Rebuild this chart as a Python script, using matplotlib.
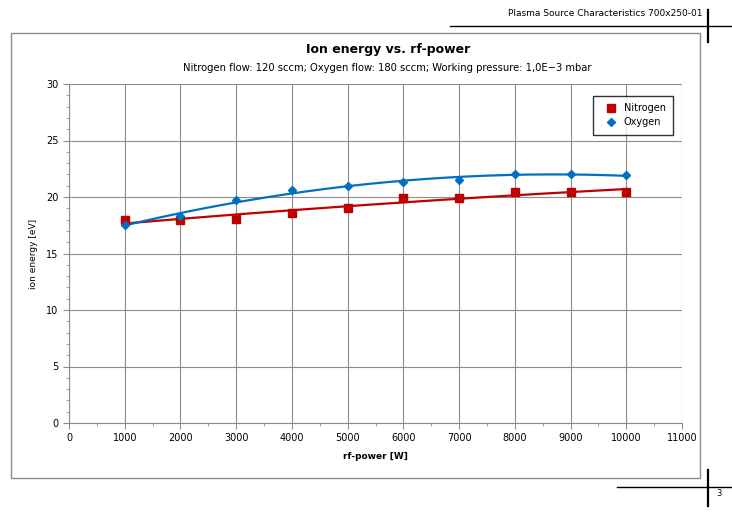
import matplotlib
matplotlib.use("Agg")
import matplotlib.pyplot as plt
import numpy as np
from matplotlib.patches import Rectangle
from matplotlib.lines import Line2D
from matplotlib.ticker import MultipleLocator

# rf-power [W] and ion energy [eV]
potencia = [1000, 2000, 3000, 4000, 5000, 6000, 7000, 8000, 9000, 10000]
nitrogeno = [18.0, 18.0, 18.05, 18.6, 19.0, 19.95, 19.95, 20.4, 20.45, 20.45]
oxigeno = [17.5, 18.3, 19.7, 20.6, 21.0, 21.35, 21.5, 22.0, 22.0, 21.95]

ROJO = "#C00000"
AZUL = "#0070C0"
GRIS = "#8c8c8c"

plt.rcParams["font.family"] = ["DejaVu Sans"]

fig = plt.figure(figsize=(7.32, 5.12), dpi=100)
W, H = 732, 512


def fx(px):
    return px / W


def fy(py):
    return 1 - py / H


# marco del gráfico
fig.patches.append(Rectangle((fx(11), fy(478)), fx(700) - fx(11), fy(33) - fy(478),
                             transform=fig.transFigure, fill=False,
                             edgecolor=GRIS, lw=1.0))

# cabecera y pie de página
fig.add_artist(Line2D([fx(450), fx(732)], [fy(26), fy(26)], color="black", lw=1.0))
fig.add_artist(Line2D([fx(708), fx(708)], [fy(10), fy(42)], color="black", lw=1.6))
fig.text(fx(703), fy(14), "Plasma Source Characteristics 700x250-01",
         ha="right", va="center", fontsize=6.5)
fig.add_artist(Line2D([fx(617), fx(732)], [fy(487), fy(487)], color="black", lw=1.0))
fig.add_artist(Line2D([fx(708), fx(708)], [fy(470), fy(506)], color="black", lw=1.6))
fig.text(fx(716), fy(493), "3", ha="left", va="center", fontsize=6)

fig.text(fx(388), fy(50), "Ion energy vs. rf-power", ha="center", va="center",
         fontsize=9, fontweight="bold")
fig.text(fx(387), fy(68),
         "Nitrogen flow: 120 sccm; Oxygen flow: 180 sccm; Working pressure: 1,0E\u22123 mbar",
         ha="center", va="center", fontsize=7.2)

ax = fig.add_axes([fx(69), fy(423), fx(682) - fx(69), fy(84) - fy(423)])

x = np.array(potencia)
xs = np.linspace(1000, 10000, 200)
for datos, color in [(nitrogeno, ROJO), (oxigeno, AZUL)]:
    coef = np.polyfit(x, datos, 2)
    ax.plot(xs, np.polyval(coef, xs), color=color, lw=1.6, zorder=3)

ax.plot(x, nitrogeno, "s", color=ROJO, ms=5.5, label="Nitrogen", zorder=4)
ax.plot(x, oxigeno, "D", color=AZUL, ms=4.3, label="Oxygen", zorder=4)

ax.set_xlim(0, 11000)
ax.set_ylim(0, 30)
ax.xaxis.set_major_locator(MultipleLocator(1000))
ax.xaxis.set_minor_locator(MultipleLocator(500))
ax.yaxis.set_major_locator(MultipleLocator(5))
ax.yaxis.set_minor_locator(MultipleLocator(1))
ax.grid(True, which="major", color=GRIS, lw=0.8)
ax.set_axisbelow(True)
for lado in ["top", "right"]:
    ax.spines[lado].set_visible(False)
for lado in ["left", "bottom"]:
    ax.spines[lado].set_color(GRIS)
ax.tick_params(which="both", direction="out", color=GRIS, labelsize=7)
ax.tick_params(which="major", length=4)
ax.tick_params(which="minor", length=2)

ax.set_xlabel("rf-power [W]", fontsize=6.5, fontweight="bold", labelpad=6)
ax.set_ylabel("ion energy [eV]", fontsize=6.5, labelpad=6)

leg = ax.legend(loc="upper right", bbox_to_anchor=(0.986, 0.966), fontsize=7,
                frameon=True, fancybox=False, handlelength=2.2, handletextpad=0.2,
                borderpad=0.8, borderaxespad=0, labelspacing=0.4)
leg.get_frame().set_edgecolor("black")
leg.get_frame().set_linewidth(1.0)

fig.savefig("out.png", dpi=100)
